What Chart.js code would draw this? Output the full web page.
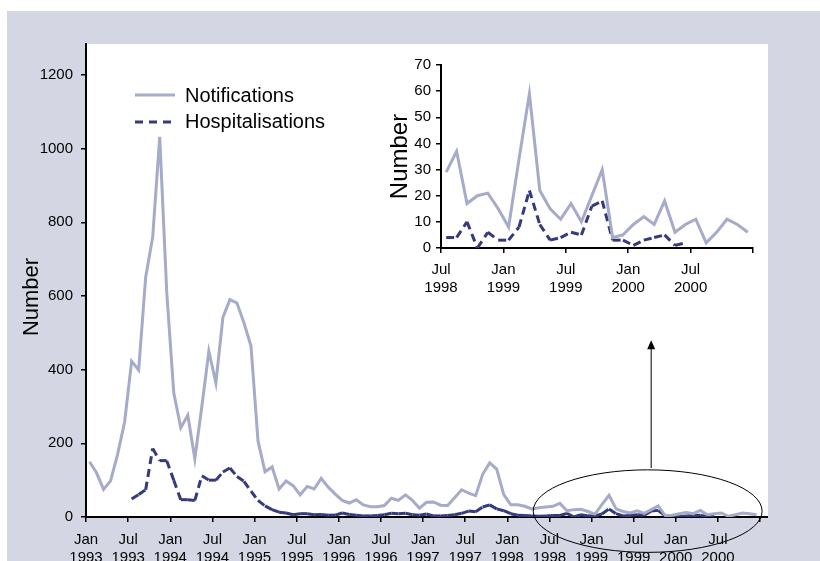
<!DOCTYPE html>
<html>
<head>
<meta charset="utf-8">
<script src="https://cdn.jsdelivr.net/npm/chart.js@4.4.1/dist/chart.umd.min.js"></script>
<style>
  body { margin: 0; background: #fff; }
  #wrap { position: relative; width: 820px; height: 561px; overflow: hidden; }
  #mainChart { position: absolute; left: 0; top: 0; }
  #insetChart { position: absolute; left: 380px; top: 50px; }
</style>
</head>
<body>
<div id="wrap">
  <canvas id="mainChart" width="820" height="561"></canvas>
  <canvas id="insetChart" width="400" height="250"></canvas>
</div>
<script>
// monthly counts, Jan 1993 - Dec 2000
const years = [1993, 1994, 1995, 1996, 1997, 1998, 1999, 2000];
const monthNames = ["Jan", "Feb", "Mar", "Apr", "May", "Jun", "Jul", "Aug", "Sep", "Oct", "Nov", "Dec"];

const notifications = [
  150, 120, 75, 98, 170, 258, 423, 399, 651, 760, 1032, 610,
  337, 242, 276, 158, 300, 450, 364, 542, 590, 581, 527, 464,
  206, 123, 136, 76, 98, 85, 60, 83, 76, 105, 81, 62,
  45, 38, 47, 33, 28, 28, 31, 51, 45, 60, 45, 24,
  40, 41, 32, 31, 52, 74, 65, 58, 116, 147, 130, 61,
  33, 33, 29, 22, 25, 27, 29, 37, 17, 20, 21, 15,
  8, 34, 59, 22, 15, 11, 17, 10, 20, 30, 4, 5,
  9, 12, 9, 18, 6, 9, 11, 2, 6, 11, 9, 6,
];
const hospitalisations = [
  null, null, null, null, null, null, 49, 61, 74, 186, 153, 153,
  100, 47, 47, 45, 112, 100, 100, 122, 133, 110, 97, 70,
  45, 30, 20, 13, 11, 6, 9, 9, 6, 7, 5, 5,
  11, 7, 5, 3, 3, 4, 6, 10, 9, 10, 6, 5,
  8, 3, 3, 4, 6, 10, 16, 14, 27, 33, 22, 17,
  9, 5, 4, 3, 2, 3, 4, 4, 10, 0, 6, 3,
  3, 8, 22, 9, 3, 4, 6, 5, 16, 18, 3, 3,
  1, 3, 4, 5, 1, 2, null, null, null, null, null, null,
];

const mainXTicks = [0, 6, 12, 18, 24, 30, 36, 42, 48, 54, 60, 66, 72, 78, 84, 90, 96];
const mainXLabels = [
  ["Jan", "1993"], ["Jul", "1993"], ["Jan", "1994"], ["Jul", "1994"],
  ["Jan", "1995"], ["Jul", "1995"], ["Jan", "1996"], ["Jul", "1996"],
  ["Jan", "1997"], ["Jul", "1997"], ["Jan", "1998"], ["Jul", "1998"],
  ["Jan", "1999"], ["Jul", "1999"], ["Jan", "2000"], ["Jul", "2000"], "",
];
const mainYTicks = [0, 200, 400, 600, 800, 1000, 1200];

// inset starts at Jul 1998
const insetStart = 66;
const insetXTicks = [0, 6, 12, 18, 24, 30];
const insetXLabels = [["Jul", "1998"], ["Jan", "1999"], ["Jul", "1999"], ["Jan", "2000"], ["Jul", "2000"], ""];
const insetYTicks = [0, 10, 20, 30, 40, 50, 60, 70];

const months = [];
for (const y of years) for (const m of monthNames) months.push(m + " " + y);

const notifColor = "#a5abc8";
const hospColor = "#343a7a";
const FONT = "'Liberation Sans', Arial, sans-serif";

function toPoints(arr) {
  return arr.map((v, i) => ({ x: i + 0.5, y: v, label: months[i] }));
}

// restart the dash on every segment, like the original
const dashPerSegment = {
  borderDashOffset: (ctx) => (ctx.p0DataIndex % 2 ? 0.001 : 0),
};

function makeDatasets(notif, hosp) {
  return [
    {
      label: "Notifications",
      data: notif,
      borderColor: notifColor,
      borderWidth: 3,
      pointRadius: 0,
      fill: false,
    },
    {
      label: "Hospitalisations",
      data: hosp,
      borderColor: hospColor,
      borderWidth: 3,
      borderDash: [8, 5],
      pointRadius: 0,
      fill: false,
      segment: dashPerSegment,
    },
  ];
}

function axisStyle() {
  return {
    grid: { display: true, drawOnChartArea: false, drawTicks: true, tickLength: 5, color: "#000", lineWidth: 1.5 },
    border: { display: true, color: "#000", width: 2 },
  };
}

const mainDecor = {
  id: "mainDecor",
  beforeDraw(chart) {
    const { ctx, chartArea: a } = chart;
    ctx.save();
    ctx.fillStyle = "#d4d7e3";
    ctx.fillRect(7, 11, chart.width - 7, chart.height - 11);
    ctx.fillStyle = "#fff";
    ctx.fillRect(a.left, a.top, a.right - a.left + 8, a.bottom - a.top);
    ctx.restore();
  },
  afterDraw(chart) {
    const { ctx, chartArea: a } = chart;
    const xs = chart.scales.x;
    const ys = chart.scales.y;
    const ds = chart.data.datasets;
    ctx.save();

    // x axis line runs a bit past the last tick
    ctx.strokeStyle = "#000";
    ctx.lineWidth = 2;
    ctx.beginPath();
    ctx.moveTo(a.right, a.bottom);
    ctx.lineTo(a.right + 8, a.bottom);
    ctx.stroke();

    // y title
    ctx.fillStyle = "#000";
    ctx.font = "22px " + FONT;
    ctx.textAlign = "center";
    ctx.textBaseline = "middle";
    ctx.translate(32, 297);
    ctx.rotate(-Math.PI / 2);
    ctx.fillText("Number", 0, 0);
    ctx.setTransform(1, 0, 0, 1, 0, 0);

    // legend
    ctx.font = "20px " + FONT;
    ctx.textAlign = "left";
    ctx.textBaseline = "alphabetic";
    ctx.lineWidth = 3;
    ctx.strokeStyle = ds[0].borderColor;
    ctx.beginPath();
    ctx.moveTo(135, 95);
    ctx.lineTo(175, 95);
    ctx.stroke();
    ctx.fillText(ds[0].label, 185, 102);
    ctx.strokeStyle = ds[1].borderColor;
    ctx.setLineDash([8, 6]);
    ctx.beginPath();
    ctx.moveTo(135, 122);
    ctx.lineTo(175, 122);
    ctx.stroke();
    ctx.setLineDash([]);
    ctx.fillText(ds[1].label, 185, 128);

    // ellipse round the inset period, arrow up to the inset
    const cx = xs.getPixelForValue(80);
    const cy = ys.getPixelForValue(16);
    const rx = xs.getPixelForValue(96.3) - cx;
    const ry = ys.getPixelForValue(0) - ys.getPixelForValue(112);
    ctx.strokeStyle = "#000";
    ctx.lineWidth = 1;
    ctx.beginPath();
    ctx.ellipse(cx, cy, rx, ry, 0, 0, Math.PI * 2);
    ctx.stroke();

    const ax = xs.getPixelForValue(80.5);
    const ay0 = ys.getPixelForValue(133);
    const ay1 = ys.getPixelForValue(480);
    ctx.beginPath();
    ctx.moveTo(ax, ay0);
    ctx.lineTo(ax, ay1 + 8);
    ctx.stroke();
    ctx.fillStyle = "#000";
    ctx.beginPath();
    ctx.moveTo(ax, ay1);
    ctx.lineTo(ax - 4, ay1 + 9);
    ctx.lineTo(ax + 4, ay1 + 9);
    ctx.closePath();
    ctx.fill();
    ctx.restore();
  },
};

const mainChart = new Chart(document.getElementById("mainChart"), {
  type: "line",
  data: { datasets: makeDatasets(toPoints(notifications), toPoints(hospitalisations)) },
  options: {
    responsive: false,
    animation: false,
    devicePixelRatio: 1,
    layout: { padding: { left: 0, top: 44, right: 60, bottom: 0 } },
    plugins: { legend: { display: false }, tooltip: { enabled: false } },
    scales: {
      x: {
        type: "linear",
        min: 0,
        max: 96,
        ...axisStyle(),
        afterBuildTicks: (s) => { s.ticks = mainXTicks.map((v) => ({ value: v })); },
        afterFit: (s) => { s.height = 44; },
        ticks: {
          autoSkip: false,
          maxRotation: 0,
          padding: 9,
          color: "#000",
          font: { family: FONT, size: 15, lineHeight: 1.2 },
          callback: (v, i) => mainXLabels[i],
        },
      },
      y: {
        type: "linear",
        min: 0,
        max: 1284,
        ...axisStyle(),
        afterBuildTicks: (s) => { s.ticks = mainYTicks.map((v) => ({ value: v })); },
        afterFit: (s) => { s.width = 86; },
        ticks: {
          padding: 8,
          color: "#000",
          font: { family: FONT, size: 15 },
          callback: (v) => String(v),
        },
      },
    },
  },
  plugins: [mainDecor],
});

const insetChart = new Chart(document.getElementById("insetChart"), {
  type: "line",
  data: {
    datasets: makeDatasets(
      toPoints(notifications.slice(insetStart)),
      toPoints(hospitalisations.slice(insetStart))
    ),
  },
  options: {
    responsive: false,
    animation: false,
    devicePixelRatio: 1,
    layout: { padding: { left: 0, top: 15, right: 27, bottom: 0 } },
    plugins: { legend: { display: false }, tooltip: { enabled: false } },
    scales: {
      x: {
        type: "linear",
        min: 0,
        max: 30,
        ...axisStyle(),
        afterBuildTicks: (s) => { s.ticks = insetXTicks.map((v) => ({ value: v })); },
        afterFit: (s) => { s.height = 52; },
        ticks: {
          autoSkip: false,
          maxRotation: 0,
          padding: 8,
          color: "#000",
          font: { family: FONT, size: 15, lineHeight: 1.2 },
          callback: (v, i) => insetXLabels[i],
        },
      },
      y: {
        type: "linear",
        min: 0,
        max: 70,
        ...axisStyle(),
        afterBuildTicks: (s) => { s.ticks = insetYTicks.map((v) => ({ value: v })); },
        afterFit: (s) => { s.width = 61; },
        title: {
          display: true,
          text: "Number",
          color: "#000",
          font: { family: FONT, size: 24 },
          padding: { top: 6, bottom: 0 },
        },
        ticks: {
          padding: 5,
          color: "#000",
          font: { family: FONT, size: 15 },
          callback: (v) => String(v),
        },
      },
    },
  },
});
</script>
</body>
</html>
